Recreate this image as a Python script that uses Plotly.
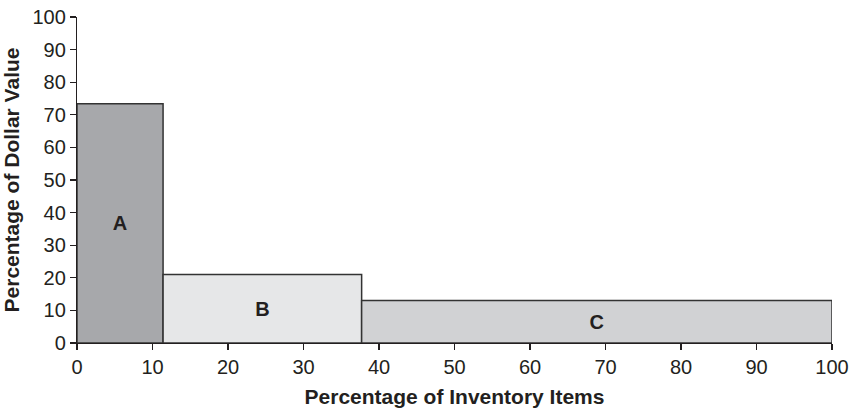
import plotly.graph_objects as go

classes = ["A", "B", "C"]
item_pct = [11.4, 26.3, 62.3]      # width of each class on x (percentage of items)
dollar_pct = [73.4, 21.0, 13.0]    # height (percentage of dollar value)
colors = ["#a7a8ab", "#e6e7e8", "#d1d2d4"]
x_ticks = list(range(0, 101, 10))
y_ticks = list(range(0, 101, 10))

starts = []
acc = 0.0
for w in item_pct:
    starts.append(acc)
    acc += w
centers = [s + w / 2 for s, w in zip(starts, item_pct)]

FONT = "Liberation Sans, Arial, sans-serif"
fig = go.Figure(go.Bar(
    x=centers, y=dollar_pct, width=item_pct,
    text=classes, textposition="inside", insidetextanchor="middle",
    textfont=dict(family=FONT, size=20, color="#231f20"),
    texttemplate="<b>%{text}</b>", textangle=0,
    marker=dict(color=colors, line=dict(color="#333333", width=1.5)),
    hoverinfo="skip",
))

tick_font = dict(family=FONT, size=20, color="#231f20")
title_font = dict(family=FONT, size=21, color="#231f20")
fig.update_layout(
    width=852, height=410,
    margin=dict(l=77, r=20, t=17, b=67, autoexpand=False),
    plot_bgcolor="white", paper_bgcolor="white",
    showlegend=False,
    font=tick_font,
    xaxis=dict(
        range=[0, 100], tickvals=x_ticks, ticks="outside", ticklen=6, tickwidth=1.2,
        tickcolor="#231f20", showline=True, linecolor="#231f20", linewidth=1.2,
        showgrid=False, zeroline=False, tickfont=tick_font, automargin=False,
        title=dict(text="<b>Percentage of Inventory Items</b>", font=title_font, standoff=12),
    ),
    yaxis=dict(
        range=[0, 100], tickvals=y_ticks, ticks="outside", ticklen=6, tickwidth=1.2,
        tickcolor="#231f20", showline=True, linecolor="#231f20", linewidth=1.2,
        showgrid=False, zeroline=False, tickfont=tick_font, automargin=False,
        title=dict(text="<b>Percentage of Dollar Value</b>", font=title_font, standoff=14),
    ),
)
fig.write_html(
    "out.html",
    config={"displayModeBar": False, "staticPlot": True},
    post_script="document.body.style.margin='0';document.body.style.overflow='hidden';",
)
